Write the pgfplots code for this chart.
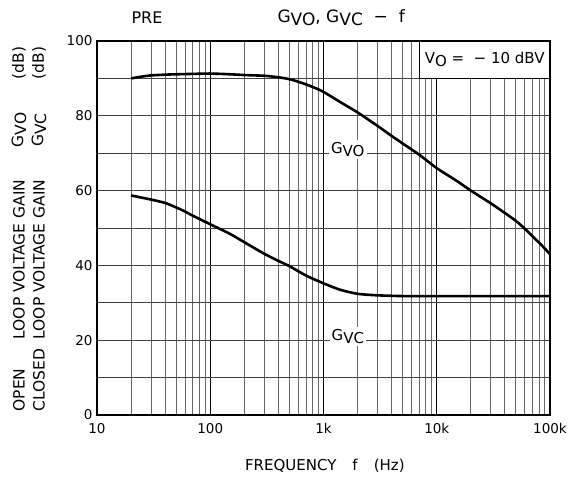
\documentclass[border=0pt]{standalone}
\usepackage{fontspec}
\setmainfont{DejaVu Sans}
\usepackage{pgfplots}
\pgfplotsset{compat=1.18}

% lowered index letters, nearly full size as in the datasheet
\newcommand{\sub}[1]{\raisebox{-0.35ex}{#1}}

\begin{document}
\begin{tikzpicture}
\begin{axis}[
  width=453pt, height=374pt, scale only axis,
  xmode=log, xmin=10, xmax=100000, ymin=0, ymax=100,
  xtick={10,100,1000,10000,100000},
  xticklabels={10,100,1k,10k,100k},
  minor xtick={20,30,40,50,60,70,80,90,200,300,400,500,600,700,800,900,
    2000,3000,4000,5000,6000,7000,8000,9000,20000,30000,40000,50000,60000,70000,80000,90000},
  ytick={0,20,...,100},
  minor ytick={10,30,...,90},
  grid=both,
  major x grid style={black, line width=1.1pt},
  minor x grid style={black!60, line width=0.9pt},
  major y grid style={black!75, line width=1pt},
  minor y grid style={black!75, line width=1pt},
  tick style={draw=none},
  axis line style={line width=1.8pt},
  /pgf/number format/assume math mode=true,
  tick label style={font=\fontsize{13.5}{15}\selectfont},
  xticklabel style={yshift=-5pt},
  yticklabel style={xshift=-1pt},
  clip=false,
]
\addplot[black, line width=2.6pt, smooth, tension=0.4] coordinates {
  (20,90) (25,90.5) (30,90.8) (40,91) (50,91.1) (70,91.2) (100,91.3)
  (150,91.1) (200,90.9) (300,90.7) (400,90.3) (500,89.8) (600,89.1)
  (700,88.4) (850,87.4) (1000,86.4) (1400,83.7) (2000,80.9) (3000,77.3)
  (4000,74.6) (5000,72.6) (7000,69.6) (10000,66) (15000,62.6) (20000,60)
  (30000,56.6) (40000,54) (50000,51.9) (60000,49.8) (70000,47.8)
  (85000,45.3) (100000,43)
};
\addplot[black, line width=2.6pt, smooth, tension=0.4] coordinates {
  (20,58.7) (30,57.6) (40,56.7) (50,55.5) (60,54.4) (70,53.3) (100,51)
  (150,48.4) (200,46.2) (300,43.1) (400,41.2) (500,39.8) (700,37.3)
  (1000,35.2) (1400,33.5) (2000,32.4) (3000,32) (5000,31.8) (10000,31.8)
  (100000,31.8)
};

\coordinate (SW) at (rel axis cs:0,0);
\coordinate (NE) at (rel axis cs:1,1);

% condition box
\draw[fill=white, line width=0.9pt] (axis cs:7000,90) rectangle (axis cs:100000,100);
\node[font=\fontsize{15}{17}\selectfont] at (axis cs:26500,95) {V\sub{O} = \ − 10 dBV};
\draw[line width=1.8pt] (rel axis cs:0,1) -- (rel axis cs:1,1) -- (rel axis cs:1,0);

% curve names
\node[fill=white, inner sep=2pt, font=\fontsize{15}{17}\selectfont] at (axis cs:1640,71) {G\sub{VO}};
\node[fill=white, inner sep=2pt, font=\fontsize{15}{17}\selectfont] at (axis cs:1640,21) {G\sub{VC}};

% title
\node[font=\fontsize{17}{19}\selectfont] at ([shift={(0pt,23pt)}]rel axis cs:0.539,1) {G\sub{VO}, G\sub{VC} \ − \ f};
\node[font=\fontsize{16}{18}\selectfont] at ([shift={(50pt,23pt)}]rel axis cs:0,1) {PRE};

% axis titles
\node[font=\fontsize{15}{17}\selectfont] at ([shift={(0pt,-51pt)}]rel axis cs:0.503,0) {FREQUENCY\hspace{16pt}f\hspace{16pt}(Hz)};
\node[rotate=90, anchor=west, font=\fontsize{15.5}{17}\selectfont] at ([shift={(-78pt,0pt)}]rel axis cs:0,0)
  {\makebox[72pt][l]{OPEN}LOOP VOLTAGE GAIN};
\node[rotate=90, anchor=west, font=\fontsize{15.5}{17}\selectfont] at ([shift={(-58pt,0pt)}]rel axis cs:0,0)
  {\makebox[72pt][l]{CLOSED}LOOP VOLTAGE GAIN};
\node[rotate=90, font=\fontsize{15.5}{17}\selectfont] at ([shift={(-78pt,285pt)}]rel axis cs:0,0) {G\sub{VO}};
\node[rotate=90, font=\fontsize{15.5}{17}\selectfont] at ([shift={(-58pt,285pt)}]rel axis cs:0,0) {G\sub{VC}};
\node[rotate=90, font=\fontsize{15.5}{17}\selectfont] at ([shift={(-78pt,352pt)}]rel axis cs:0,0) {(dB)};
\node[rotate=90, font=\fontsize{15.5}{17}\selectfont] at ([shift={(-58pt,352pt)}]rel axis cs:0,0) {(dB)};
\end{axis}
\pgfresetboundingbox
\path[use as bounding box] ([shift={(-97pt,-65pt)}]SW) rectangle ([shift={(19pt,41pt)}]NE);
\end{tikzpicture}
\end{document}
